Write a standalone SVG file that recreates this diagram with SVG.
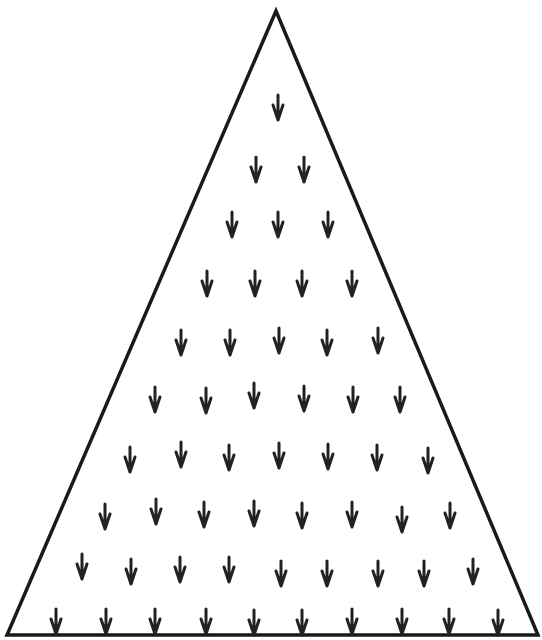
<svg xmlns="http://www.w3.org/2000/svg" width="542" height="640" viewBox="0 0 542 640">
<style>
.tri{fill:none;stroke:#1a1a1a;stroke-width:3.5;stroke-linejoin:miter}
.a{fill:none;stroke:#222;stroke-width:3;stroke-linecap:round;stroke-linejoin:round}
</style>
<defs>
<path id="arr" class="a" d="M0,-13 L0,12 M-5,-3 L0,12 L5,-3"/>
</defs>
<rect width="542" height="640" fill="#fff"/>
<g id="triangle"><path class="tri" d="M276,11 L7,635 L538,635 Z"/></g>
<g id="arrows">
<use href="#arr" x="278" y="108"/>
<use href="#arr" x="256" y="170"/><use href="#arr" x="304" y="170"/>
<use href="#arr" x="232" y="225"/><use href="#arr" x="278" y="225"/><use href="#arr" x="328" y="225"/>
<use href="#arr" x="207" y="284"/><use href="#arr" x="255" y="284"/><use href="#arr" x="302" y="284"/><use href="#arr" x="352" y="284"/>
<use href="#arr" x="181" y="343"/><use href="#arr" x="230" y="343"/><use href="#arr" x="279" y="341"/><use href="#arr" x="327" y="343"/><use href="#arr" x="378" y="341"/>
<use href="#arr" x="155" y="400"/><use href="#arr" x="206" y="401"/><use href="#arr" x="254" y="396"/><use href="#arr" x="304" y="399"/><use href="#arr" x="353" y="400"/><use href="#arr" x="400" y="400"/>
<use href="#arr" x="130" y="460"/><use href="#arr" x="181" y="455"/><use href="#arr" x="229" y="458"/><use href="#arr" x="279" y="456"/><use href="#arr" x="328" y="457"/><use href="#arr" x="377" y="458"/><use href="#arr" x="428" y="461"/>
<use href="#arr" x="105" y="517"/><use href="#arr" x="156" y="512"/><use href="#arr" x="204" y="515"/><use href="#arr" x="254" y="514"/><use href="#arr" x="302" y="516"/><use href="#arr" x="352" y="515"/><use href="#arr" x="402" y="520"/><use href="#arr" x="450" y="516"/>
<use href="#arr" x="82" y="567"/><use href="#arr" x="131" y="572"/><use href="#arr" x="180" y="570"/><use href="#arr" x="229" y="570"/><use href="#arr" x="281" y="574"/><use href="#arr" x="327" y="574"/><use href="#arr" x="378" y="574"/><use href="#arr" x="424" y="574"/><use href="#arr" x="473" y="572"/>
<use href="#arr" x="56" y="622"/><use href="#arr" x="106" y="622"/><use href="#arr" x="155" y="622"/><use href="#arr" x="206" y="622"/><use href="#arr" x="254" y="623"/><use href="#arr" x="302" y="623"/><use href="#arr" x="352" y="622"/><use href="#arr" x="402" y="622"/><use href="#arr" x="449" y="622"/><use href="#arr" x="498" y="623"/>
</g>
</svg>
